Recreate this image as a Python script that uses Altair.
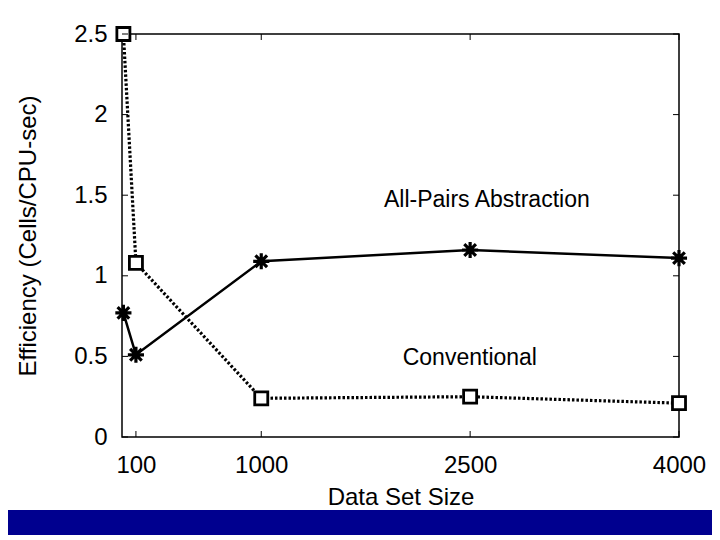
import altair as alt
import pandas as pd

sizes = [10, 100, 1000, 2500, 4000]
allpairs = [0.77, 0.51, 1.09, 1.16, 1.11]
conventional = [2.50, 1.08, 0.24, 0.25, 0.21]
x_ticks = [100, 1000, 2500, 4000]
y_ticks = [0, 0.5, 1, 1.5, 2, 2.5]
series_labels = ["All-Pairs Abstraction", "Conventional"]

W, H = 557, 403
PL, PT, PR, PB = 114, 26, 33, 98
FONT = "Liberation Sans"
FS = 24

df_a = pd.DataFrame({"size": sizes, "eff": allpairs})
df_c = pd.DataFrame({"size": sizes, "eff": conventional})
df_xt = pd.DataFrame({"t": x_ticks})
df_yt = pd.DataFrame({"t": y_ticks})
one = pd.DataFrame({"k": [0]})

xscale = alt.Scale(domain=[0, 4000], nice=False, zero=False)
yscale = alt.Scale(domain=[0, 2.5], nice=False)

xaxis = alt.Axis(values=x_ticks, title="Data Set Size", grid=False, domain=False,
                 ticks=False, tickSize=0, labelPadding=16, labelFontSize=FS,
                 titleFontSize=FS, titleFontWeight="normal", titlePadding=8,
                 labelFont=FONT, titleFont=FONT, labelColor="black", titleColor="black",
                 labelFlush=False, format="d")
yaxis = alt.Axis(values=y_ticks, title="Efficiency (Cells/CPU-sec)", grid=False,
                 domain=False, ticks=False, tickSize=0, labelPadding=15,
                 labelFontSize=FS, titleFontSize=FS, titleFontWeight="normal",
                 titlePadding=33, labelFont=FONT, titleFont=FONT,
                 labelColor="black", titleColor="black", labelFlush=False,
                 format="~g")

asterisk = "M-1,0L1,0M0,-1L0,1M-0.72,-0.72L0.72,0.72M-0.72,0.72L0.72,-0.72"

base_a = alt.Chart(df_a)
base_c = alt.Chart(df_c)

line_a = base_a.mark_line(color="black", strokeWidth=2.5).encode(
    x=alt.X("size:Q", scale=xscale, axis=xaxis),
    y=alt.Y("eff:Q", scale=yscale, axis=yaxis),
)
pts_a = base_a.mark_point(shape=asterisk, size=260, filled=False, color="black",
                          strokeWidth=3.2, opacity=1).encode(
    x=alt.X("size:Q", scale=xscale), y=alt.Y("eff:Q", scale=yscale))
line_c = base_c.mark_line(color="black", strokeWidth=3.2, strokeDash=[2.5, 2]).encode(
    x=alt.X("size:Q", scale=xscale), y=alt.Y("eff:Q", scale=yscale))
pts_c = base_c.mark_point(shape="square", size=170, filled=False, color="black",
                          strokeWidth=2.8, opacity=1, fill="white", fillOpacity=1).encode(
    x=alt.X("size:Q", scale=xscale), y=alt.Y("eff:Q", scale=yscale))

# inward ticks
tb = alt.Chart(df_xt).mark_rule(color="black", strokeWidth=1).encode(
    x=alt.X("t:Q", scale=xscale), y=alt.value(H), y2=alt.value(H - 6))
tt = alt.Chart(df_xt).mark_rule(color="black", strokeWidth=1).encode(
    x=alt.X("t:Q", scale=xscale), y=alt.value(0), y2=alt.value(6))
tl = alt.Chart(df_yt).mark_rule(color="black", strokeWidth=1).encode(
    y=alt.Y("t:Q", scale=yscale), x=alt.value(0), x2=alt.value(6))
tr = alt.Chart(df_yt).mark_rule(color="black", strokeWidth=1).encode(
    y=alt.Y("t:Q", scale=yscale), x=alt.value(W), x2=alt.value(W - 6))

lab1 = alt.Chart(one).mark_text(text=series_labels[0], font=FONT, fontSize=FS - 1,
                                align="center", baseline="alphabetic", color="black").encode(
    x=alt.datum(2620, scale=xscale), y=alt.datum(1.427, scale=yscale))
lab2 = alt.Chart(one).mark_text(text=series_labels[1], font=FONT, fontSize=FS - 1,
                                align="center", baseline="alphabetic", color="black").encode(
    x=alt.datum(2498, scale=xscale), y=alt.datum(0.447, scale=yscale))

bar = alt.Chart(one).mark_rect(color="#00008f").encode(
    x=alt.value(-PL), x2=alt.value(W + PR), y=alt.value(476), y2=alt.value(H + PB))

chart = alt.layer(bar, line_c, line_a, pts_c, pts_a, tb, tt, tl, tr, lab1, lab2).properties(
    width=W, height=H,
    autosize=alt.AutoSizeParams(type="none"),
    padding={"left": PL, "top": PT, "right": PR, "bottom": PB},
    background="white",
).configure_view(stroke="black", strokeWidth=1.5)

chart.save("out.html", embed_options={"renderer": "svg", "actions": False})
